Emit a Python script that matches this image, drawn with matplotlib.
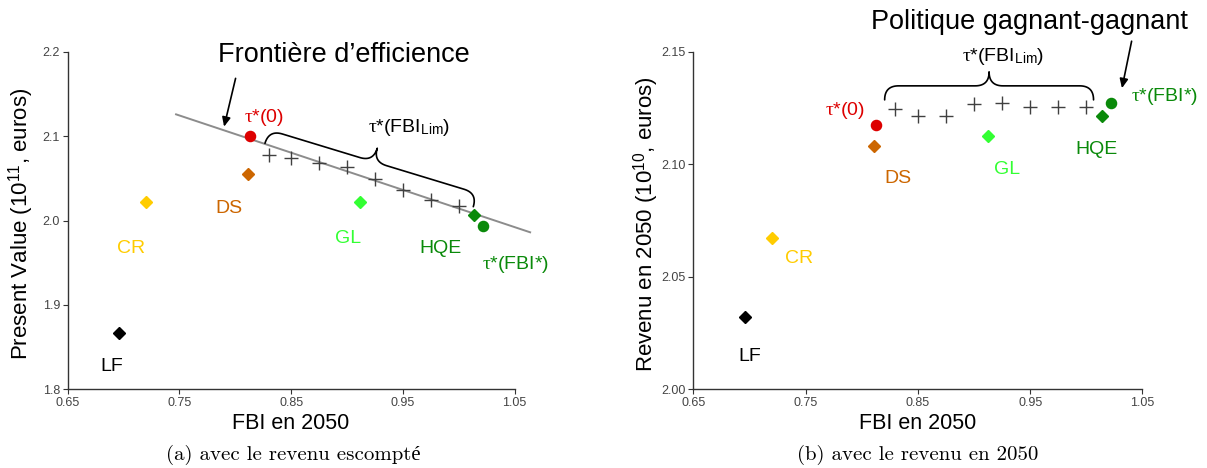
import numpy as np
import matplotlib
matplotlib.use("Agg")
import matplotlib.pyplot as plt

# ---------------- data ----------------
scen_names = ["LF", "CR", "DS", "GL", "HQE"]
scen_fbi = [0.696, 0.720, 0.811, 0.912, 1.014]
scen_pv = [1.867, 2.022, 2.055, 2.022, 2.006]
scen_rev = [2.032, 2.067, 2.108, 2.1125, 2.1217]

tau0_fbi = 0.813
tau0_pv = 2.100
tau0_rev = 2.1177

taustar_fbi = 1.022
taustar_pv = 1.993
taustar_rev = 2.1272

lim_fbi = [0.83, 0.85, 0.875, 0.90, 0.925, 0.95, 0.975, 1.00]
lim_pv = [2.078, 2.074, 2.068, 2.0635, 2.049, 2.036, 2.024, 2.017]
lim_rev = [2.1247, 2.1216, 2.1216, 2.1268, 2.1275, 2.1254, 2.1257, 2.1254]

frontier_fbi = [0.747, 1.064]
frontier_pv = [2.126, 1.986]

x_ticks = [0.65, 0.75, 0.85, 0.95, 1.05]
pv_ticks = [1.8, 1.9, 2.0, 2.1, 2.2]
rev_ticks = [2.00, 2.05, 2.10, 2.15]

# ---------------- style ----------------
plt.rcParams["font.family"] = ["Liberation Sans", "DejaVu Sans"]
plt.rcParams["mathtext.fontset"] = "custom"
plt.rcParams["mathtext.rm"] = "Liberation Sans"
plt.rcParams["mathtext.it"] = "Liberation Serif"
plt.rcParams["mathtext.bf"] = "Liberation Sans:bold"

scen_colors = ["#000000", "#FFCC00", "#CC6600", "#33FF33", "#0A8A0A"]
tau0_color = "#DD0000"
taustar_color = "#0A8A0A"
cross_color = "#404040"
spine_color = "#333333"

TAU = r"$\tau$"
lab_fs = 14
title_fs = 19.5
axlab_fs = 15.5

fig = plt.figure(figsize=(12.07, 4.68), dpi=100)
W, H = 1207, 468
axL = fig.add_axes([67.7 / W, 1 - 389 / H, 446.8 / W, 337 / H])
axR = fig.add_axes([693.3 / W, 1 - 389 / H, 449.2 / W, 337 / H])


def style_axes(ax, yticks, yfmt):
    for s in ["top", "right"]:
        ax.spines[s].set_visible(False)
    for s in ["left", "bottom"]:
        ax.spines[s].set_color(spine_color)
        ax.spines[s].set_linewidth(1.0)
    ax.set_xlim(0.65, 1.05)
    ax.set_ylim(yticks[0], yticks[-1])
    ax.set_xticks(x_ticks)
    ax.set_xticklabels([f"{v:.2f}" for v in x_ticks])
    ax.set_yticks(yticks)
    ax.set_yticklabels([yfmt.format(v) for v in yticks])
    ax.tick_params(direction="out", length=3.5, width=0.8, color=spine_color,
                   labelcolor="#444444", labelsize=9, pad=2.0)


def brace(ax, p1, p2, h_px=14.0, lw=1.2):
    fig.canvas.draw()
    T = ax.transData
    a = T.transform(p1)
    b = T.transform(p2)
    d = b - a
    L = np.hypot(*d)
    u = d / L
    n = np.array([-u[1], u[0]])
    r = min(h_px, L / 4)
    t = np.linspace(0, 1, 20)[:, None]

    def quad(P0, P1, P2):
        P0, P1, P2 = map(np.array, (P0, P1, P2))
        return (1 - t) ** 2 * P0 + 2 * (1 - t) * t * P1 + t ** 2 * P2

    h = h_px
    segs = [
        quad((0, 0), (0, h), (r, h)),
        np.array([[r, h], [L / 2 - r, h]]),
        quad((L / 2 - r, h), (L / 2, h), (L / 2, 2 * h)),
        quad((L / 2, 2 * h), (L / 2, h), (L / 2 + r, h)),
        np.array([[L / 2 + r, h], [L - r, h]]),
        quad((L - r, h), (L, h), (L, 0)),
    ]
    loc = np.vstack(segs)
    disp = a + loc[:, :1] * u + loc[:, 1:2] * n
    data = T.inverted().transform(disp)
    ax.plot(data[:, 0], data[:, 1], color="black", lw=lw, clip_on=False,
            solid_capstyle="round")


def draw_points(ax, yscen, ytau0, ytaustar, ylim_vals):
    for x, y, c in zip(scen_fbi, yscen, scen_colors):
        ax.plot(x, y, marker="D", ms=6.2, color=c, mec=c, ls="none", zorder=4,
                clip_on=False)
    ax.plot(tau0_fbi, ytau0, marker="o", ms=7.3, color=tau0_color, ls="none",
            zorder=4, clip_on=False)
    ax.plot(taustar_fbi, ytaustar, marker="o", ms=7.3, color=taustar_color,
            ls="none", zorder=4, clip_on=False)
    ax.plot(lim_fbi, ylim_vals, marker="+", ms=9.5, mew=1.0, color=cross_color,
            ls="none", zorder=4, clip_on=False)


# ---------------- left: present value ----------------
style_axes(axL, pv_ticks, "{:.1f}")
axL.plot(frontier_fbi, frontier_pv, color="#8c8c8c", lw=1.4, zorder=2,
         clip_on=False)
draw_points(axL, scen_pv, tau0_pv, taustar_pv, lim_pv)

left_label_pos = {"LF": (0.689, 1.8265), "CR": (0.707, 1.967), "DS": (0.794, 2.0144),
                  "GL": (0.901, 1.979), "HQE": (0.984, 1.967)}
for name, c in zip(scen_names, scen_colors):
    x, y = left_label_pos[name]
    axL.text(x, y, name, color=c, fontsize=lab_fs, ha="center", va="center")
axL.text(0.826, 2.1225, TAU + "*(0)", color=tau0_color, fontsize=lab_fs,
         ha="center", va="center")
axL.text(1.0507, 1.948, TAU + "*(FBI*)", color=taustar_color, fontsize=lab_fs,
         ha="center", va="center")
axL.text(0.956, 2.110, TAU + r"*(FBI$_{\rm Lim}$)", color="black", fontsize=lab_fs,
         ha="center", va="center")
axL.text(0.897, 2.1964, "Frontière d’efficience", color="black", fontsize=title_fs,
         ha="center", va="center")
axL.annotate("", xy=(0.790, 2.1114), xytext=(0.8003, 2.1687),
             arrowprops=dict(arrowstyle="-|>,head_length=0.55,head_width=0.25",
                             color="black", lw=1.2, shrinkA=0, shrinkB=0))
axL.set_xlabel("FBI en 2050", fontsize=axlab_fs)
axL.xaxis.set_label_coords(0.5, -0.072)
axL.set_ylabel(r"Present Value (10$^{11}$, euros)", fontsize=16)
axL.yaxis.set_label_coords(-0.070, 0.49)

# ---------------- right: revenue 2050 ----------------
style_axes(axR, rev_ticks, "{:.2f}")
draw_points(axR, scen_rev, tau0_rev, taustar_rev, lim_rev)

right_label_pos = {"LF": (0.700, 2.0144), "CR": (0.744, 2.058), "DS": (0.8325, 2.0938),
                   "GL": (0.9295, 2.0975), "HQE": (1.009, 2.1067)}
for name, c in zip(scen_names, scen_colors):
    x, y = right_label_pos[name]
    axR.text(x, y, name, color=c, fontsize=lab_fs, ha="center", va="center")
axR.text(0.785, 2.1238, TAU + "*(0)", color=tau0_color, fontsize=lab_fs,
         ha="center", va="center")
axR.text(1.0697, 2.1302, TAU + "*(FBI*)", color=taustar_color, fontsize=lab_fs,
         ha="center", va="center")
axR.text(0.926, 2.1481, TAU + r"*(FBI$_{\rm Lim}$)", color="black", fontsize=lab_fs,
         ha="center", va="center")
axR.text(0.9492, 2.1632, "Politique gagnant-gagnant", color="black",
         fontsize=title_fs, ha="center", va="center")
axR.annotate("", xy=(1.0317, 2.1339), xytext=(1.0403, 2.1548),
             arrowprops=dict(arrowstyle="-|>,head_length=0.55,head_width=0.25",
                             color="black", lw=1.2, shrinkA=0, shrinkB=0),
             annotation_clip=False)
axR.set_xlabel("FBI en 2050", fontsize=axlab_fs)
axR.xaxis.set_label_coords(0.5, -0.072)
axR.set_ylabel(r"Revenu en 2050 (10$^{10}$, euros)", fontsize=16)
axR.yaxis.set_label_coords(-0.072, 0.49)

# braces
brace(axL, (0.8266, 2.0916), (1.0131, 2.0164))
brace(axR, (0.8204, 2.1287), (1.0064, 2.1287))

# captions
cap_font = ["cmr10", "Liberation Serif"]
fig.text(293 / W, 1 - 455 / H, "(a) avec le revenu escompté", family=cap_font,
         fontsize=15, ha="center", va="center")
fig.text(918 / W, 1 - 455 / H, "(b) avec le revenu en 2050", family=cap_font,
         fontsize=15, ha="center", va="center")

fig.savefig("out.png", dpi=100)
